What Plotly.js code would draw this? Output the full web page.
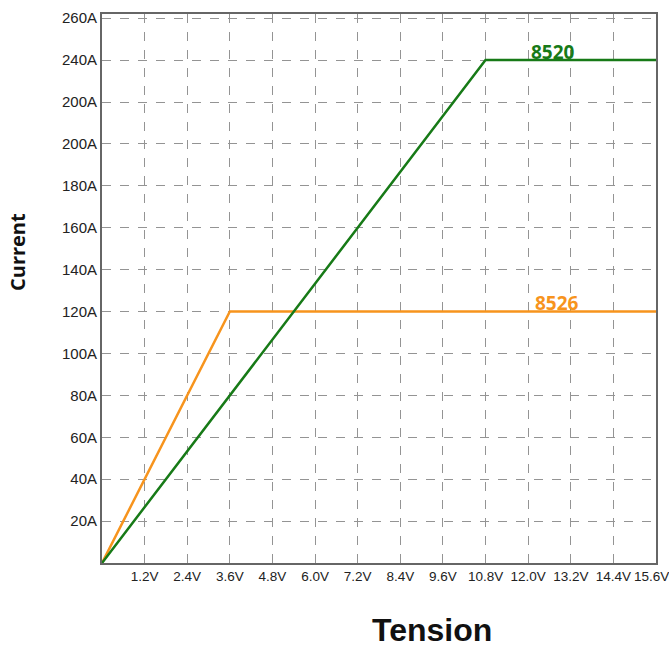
<!DOCTYPE html>
<html>
<head>
<meta charset="utf-8">
<script src="https://cdn.plot.ly/plotly-3.0.1.min.js"></script>
<style>html,body{margin:0;padding:0;background:#fff;}#chart{width:669px;height:647px;}</style>
</head>
<body>
<div id="chart"></div>
<script>
// Data
const seriesNames = ["8520", "8526"];
const voltage8520 = [0, 10.8, 15.6];
const current8520 = [0, 240, 240];
const voltage8526 = [0, 3.6, 15.6];
const current8526 = [0, 120, 120];

const xTickVals = [1.2, 2.4, 3.6, 4.8, 6.0, 7.2, 8.4, 9.6, 10.8, 12.0, 13.2, 14.4, 15.6];
const xTickText = ["1.2V","2.4V","3.6V","4.8V","6.0V","7.2V","8.4V","9.6V","10.8V","12.0V","13.2V","14.4V","15.6V"];
const yTickVals = [20, 40, 60, 80, 100, 120, 140, 160, 180, 200, 220, 240, 260];
const yTickText = ["20A","40A","60A","80A","100A","120A","140A","160A","180A","200A","200A","240A","260A"];

const green = "#177a17";
const orange = "#f7941d";

const traces = [
  {x: voltage8526, y: current8526, mode: "lines", name: seriesNames[1],
   line: {color: orange, width: 2.5}, hoverinfo: "skip"},
  {x: voltage8520, y: current8520, mode: "lines", name: seriesNames[0],
   line: {color: green, width: 2.5}, hoverinfo: "skip"}
];

const pw = 669 - 102 - 13, ph = 647 - 14 - 84;
const lastX = xTickVals.length - 1;
// the last tick label is drawn as an annotation so it can sit inside the page edge
const shownXText = xTickText.map((t, i) => i === lastX ? "" : t);

const layout = {
  width: 669, height: 647,
  margin: {l: 102, r: 13, t: 14, b: 84},
  paper_bgcolor: "#fff", plot_bgcolor: "#fff",
  showlegend: false,
  font: {family: "Liberation Sans, Arial, sans-serif", color: "#222"},
  xaxis: {
    range: [0, 15.6], tickvals: xTickVals, ticktext: shownXText,
    tickfont: {size: 13.5, color: "#222"},
    showgrid: true, gridcolor: "#949494", griddash: "dash", gridwidth: 1,
    zeroline: false, showline: true, mirror: true, linecolor: "#666", linewidth: 2,
    ticks: "", fixedrange: true
  },
  yaxis: {
    range: [0, 262], tickvals: yTickVals, ticktext: yTickText,
    tickfont: {size: 15, color: "#222"},
    showgrid: true, gridcolor: "#949494", griddash: "dash", gridwidth: 1,
    zeroline: false, showline: true, mirror: true, linecolor: "#666", linewidth: 2,
    ticks: "", fixedrange: true
  },
  annotations: [
    {x: 12.7, y: 240, xref: "x", yref: "y", text: "<b>" + seriesNames[0] + "</b>",
     showarrow: false, xanchor: "center", yanchor: "middle", yshift: 8,
     font: {family: "Open Sans, sans-serif", size: 19, color: green}},
    {x: 12.8, y: 120, xref: "x", yref: "y", text: "<b>" + seriesNames[1] + "</b>",
     showarrow: false, xanchor: "center", yanchor: "middle", yshift: 9,
     font: {family: "Open Sans, sans-serif", size: 19, color: orange}},
    {x: xTickVals[lastX], y: 0, xref: "x", yref: "y", text: xTickText[lastX],
     showarrow: false, xanchor: "center", yanchor: "middle", xshift: -5, yshift: -13,
     font: {family: "Liberation Sans, Arial, sans-serif", size: 13.5, color: "#222"}},
    {x: (432 - 102) / pw, y: (563 - 630) / ph, xref: "paper", yref: "paper",
     text: "<b>Tension</b>", showarrow: false, xanchor: "center", yanchor: "middle",
     font: {family: "Liberation Sans, Arial, sans-serif", size: 32, color: "#111"}},
    {x: (18 - 102) / pw, y: (563 - 252) / ph, xref: "paper", yref: "paper",
     text: "<b>Current</b>", showarrow: false, textangle: -90, xanchor: "center", yanchor: "middle",
     font: {family: "Open Sans, sans-serif", size: 20, color: "#111"}}
  ]
};

Plotly.newPlot("chart", traces, layout, {displayModeBar: false, staticPlot: true});
</script>
</body>
</html>
